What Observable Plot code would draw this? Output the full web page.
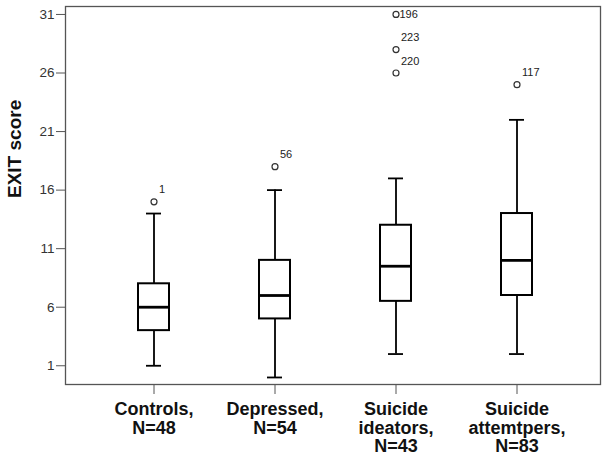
<!DOCTYPE html>
<html>
<head>
<meta charset="utf-8">
<script src="https://cdn.jsdelivr.net/npm/d3@7"></script>
<script src="https://cdn.jsdelivr.net/npm/@observablehq/plot@0.6"></script>
<style>
  html, body { margin: 0; padding: 0; background: #fff; }
  #chart svg { display: block; }
</style>
</head>
<body>
<div id="chart"></div>
<script>
// ---- data ----
const groups = ["Controls", "Depressed", "Suicide ideators", "Suicide attemtpers"];
const tickLabels = ["Controls,\nN=48", "Depressed,\nN=54", "Suicide\nideators,\nN=43", "Suicide\nattemtpers,\nN=83"];
const whiskerLow = [1, 0, 2, 2];
const q1 = [4, 5, 6.5, 7];
const median = [6, 7, 9.5, 10];
const q3 = [8, 10, 13, 14];
const whiskerHigh = [14, 16, 17, 22];
const outlierGroup = ["Controls", "Depressed", "Suicide ideators", "Suicide ideators", "Suicide ideators", "Suicide attemtpers"];
const outlierValue = [15, 18, 31, 28, 26, 25];
const outlierCase = ["1", "56", "196", "223", "220", "117"];
const yTicks = [1, 6, 11, 16, 21, 26, 31];
const yLabel = "EXIT score";

// ---- tables built from the arrays ----
const boxes = groups.map((g, i) => ({
  group: g, low: whiskerLow[i], q1: q1[i], median: median[i], q3: q3[i], high: whiskerHigh[i]
}));
const outliers = outlierGroup.map((g, i) => ({group: g, value: outlierValue[i], label: outlierCase[i]}));
const yMax = 31.68;
const topOutliers = outliers.filter(d => d.value >= 31);
const otherOutliers = outliers.filter(d => d.value < 31);

const font = "'Liberation Sans', Arial, sans-serif";

const chart = Plot.plot({
  width: 613,
  height: 462,
  marginTop: 6,
  marginBottom: 78,
  marginLeft: 65,
  marginRight: 13,
  style: {fontFamily: font, background: "#fff"},
  x: {type: "band", domain: groups, range: [76.5, 592.8], paddingInner: 0.7445, paddingOuter: 0.5, align: 0.5},
  y: {domain: [-0.6, yMax]},
  marks: [
    // whiskers
    Plot.ruleX(boxes, {x: "group", y1: "low", y2: "q1", stroke: "#000", strokeWidth: 1.8}),
    Plot.ruleX(boxes, {x: "group", y1: "q3", y2: "high", stroke: "#000", strokeWidth: 1.8}),
    // whisker caps
    Plot.tickY(boxes, {x: "group", y: "low", stroke: "#000", strokeWidth: 1.8, insetLeft: 8, insetRight: 8}),
    Plot.tickY(boxes, {x: "group", y: "high", stroke: "#000", strokeWidth: 1.8, insetLeft: 8, insetRight: 8}),
    // boxes
    Plot.barY(boxes, {x: "group", y1: "q1", y2: "q3", fill: "#fff", stroke: "#000", strokeWidth: 2}),
    // medians
    Plot.tickY(boxes, {x: "group", y: "median", stroke: "#000", strokeWidth: 2.8}),
    // outliers
    Plot.dot(outliers, {x: "group", y: "value", r: 3, stroke: "#333", strokeWidth: 1.2, fill: "none"}),
    Plot.text(otherOutliers, {x: "group", y: "value", text: "label", dx: 5, dy: -12, textAnchor: "start", fontSize: 11, fill: "#222"}),
    Plot.text(topOutliers, {x: "group", y: "value", text: "label", dx: 3.5, dy: 0, textAnchor: "start", fontSize: 11, fill: "#222"}),
    // axes
    Plot.axisY({ticks: yTicks, tickFormat: d => String(d), tickSize: 9, tickPadding: 2, fontSize: 13.5, fill: "#333", stroke: "#555", label: null}),
    Plot.axisX({tickFormat: d => tickLabels[groups.indexOf(d)], tickSize: 10, tickPadding: 7, fontSize: 18, fontWeight: "bold", lineHeight: 1.04, fill: "#111", stroke: "#555", label: null}),
    Plot.text([yLabel], {frameAnchor: "left", text: d => d, rotate: -90, dx: -50.5, dy: 2.5, fontSize: 19, fontWeight: "bold", fill: "#111"}),
    Plot.frame({stroke: "#555", strokeWidth: 1.3})
  ]
});
document.getElementById("chart").appendChild(chart);
</script>
</body>
</html>
